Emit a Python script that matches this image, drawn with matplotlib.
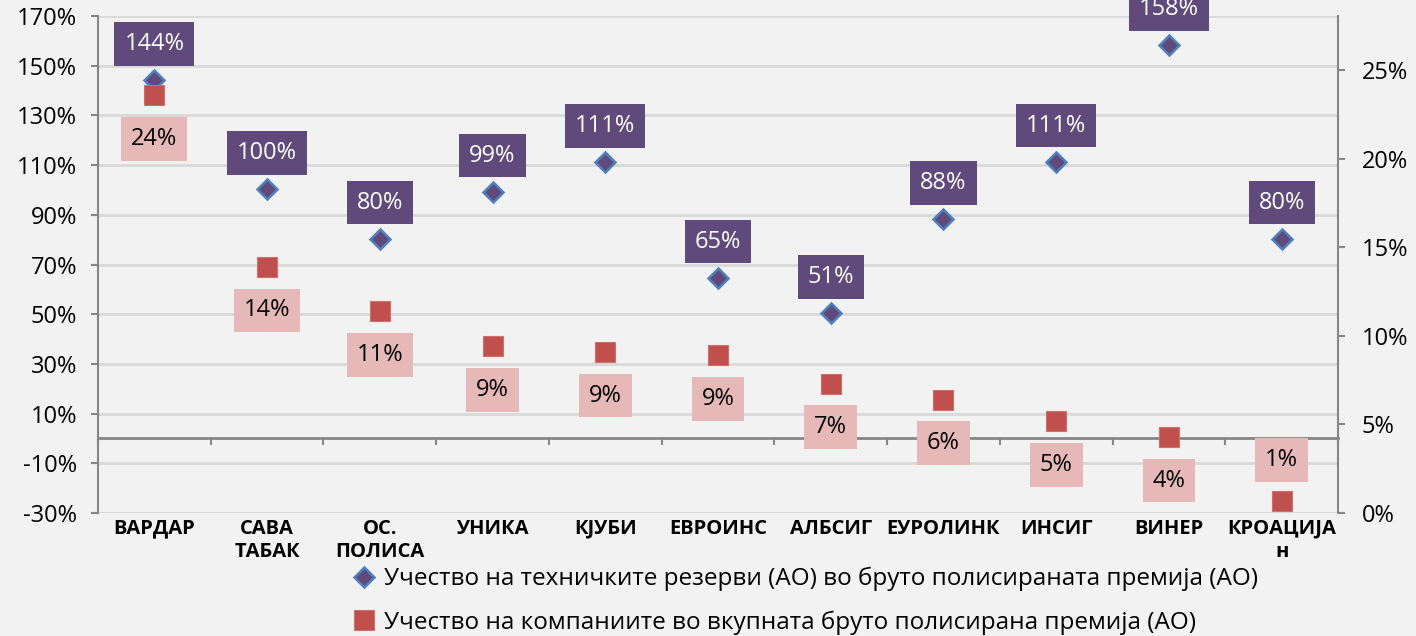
import matplotlib
matplotlib.use("Agg")
import matplotlib.pyplot as plt
from matplotlib.lines import Line2D
from matplotlib.ticker import FuncFormatter, MultipleLocator

plt.rcParams['font.family'] = ['Open Sans', 'DejaVu Sans']

categories = ["ВАРДАР", "САВА\nТАБАК", "ОС.\nПОЛИСА", "УНИКА", "КЈУБИ", "ЕВРОИНС",
              "АЛБСИГ", "ЕУРОЛИНК", "ИНСИГ", "ВИНЕР", "КРОАЦИЈА\nн"]
reserves_share = [144.2, 100.4, 80.4, 99.3, 111.3, 64.7, 50.6, 88.3, 111.4, 158.4, 80.4]
premium_share = [23.6, 13.9, 11.4, 9.4, 9.1, 8.9, 7.3, 6.4, 5.2, 4.3, 0.7]
left_ticks = [-30, -10, 10, 30, 50, 70, 90, 110, 130, 150, 170]
legend_labels = ["Учество на техничките резерви (АО) во бруто полисираната премија (АО)",
                 "Учество на компаниите во вкупната бруто полисирана премија (АО)"]

BG = "#F2F2F2"
AXC = "#868686"
GRID = "#D9D9D9"
PURPLE = "#604A7B"
BLUE_EDGE = "#4F81BD"
RED = "#C0504D"
PINK = "#E6B9B8"

fig = plt.figure(figsize=(14.16, 6.36), dpi=100, facecolor=BG)
ax = fig.add_axes([98/1416, 1-513/636, (1338-98)/1416, (513-16)/636])
ax.set_facecolor(BG)
ax2 = ax.twinx()
ax2.patch.set_visible(False)

x = list(range(len(categories)))

# left axis
ax.set_xlim(-0.5, len(categories) - 0.5)
ax.set_ylim(-30, 170)
ax.set_yticks(left_ticks)
ax.yaxis.set_major_formatter(FuncFormatter(lambda v, p: f"{v:.0f}%"))
ax.grid(axis='y', color=GRID, linewidth=2)
ax.set_axisbelow(True)
for s in ['top', 'bottom', 'right']:
    ax.spines[s].set_visible(False)
ax.spines['left'].set_color(AXC)
ax.spines['left'].set_linewidth(1.5)
ax.tick_params(axis='y', colors=AXC, labelcolor='black', length=5, width=1.5,
               labelsize=17, pad=10)
ax.set_xticks(x)
ax.set_xticklabels(categories, fontsize=14.5, fontweight='bold', linespacing=1.25)
ax.tick_params(axis='x', length=0, pad=4)

# zero line with category separators
sec = ax.secondary_xaxis(0.15)
sec.set_xticks([i - 0.5 for i in range(len(categories) + 1)])
sec.set_xticklabels([])
sec.spines['bottom'].set_color(AXC)
sec.spines['bottom'].set_linewidth(2)
sec.tick_params(axis='x', direction='out', length=5, width=1.5, colors=AXC)

# right axis
ax2.set_ylim(0, 28.05)
ax2.yaxis.set_major_locator(MultipleLocator(5))
ax2.yaxis.set_major_formatter(FuncFormatter(lambda v, p: f"{v:.0f}%"))
for s in ['top', 'bottom', 'left']:
    ax2.spines[s].set_visible(False)
ax2.spines['right'].set_color(AXC)
ax2.spines['right'].set_linewidth(1.5)
ax2.tick_params(axis='y', colors=AXC, labelcolor='black', length=5, width=1.5,
                labelsize=17, pad=12)

# series
ax.plot(x, reserves_share, linestyle='none', marker='D', markersize=10.5,
        markerfacecolor=PURPLE, markeredgecolor=BLUE_EDGE, markeredgewidth=1.8, zorder=3)
ax2.plot(x, premium_share, linestyle='none', marker='s', markersize=15,
         markerfacecolor=RED, markeredgecolor="#D0706D", markeredgewidth=0.8, zorder=3)

for i, v in enumerate(reserves_share):
    ax.annotate(f"{v:.0f}%", xy=(i, v), xytext=(0, 26), textcoords='offset points',
                ha='center', va='center', color='white', fontsize=17,
                bbox=dict(boxstyle='square,pad=0.42', fc=PURPLE, ec='none'),
                annotation_clip=False, zorder=4)

for i, v in enumerate(premium_share):
    off = -31.5 if i < len(premium_share) - 1 else 29
    ax2.annotate(f"{v:.0f}%", xy=(i, v), xytext=(0, off), textcoords='offset points',
                 ha='center', va='center', color='black', fontsize=17,
                 bbox=dict(boxstyle='square,pad=0.42', fc=PINK, ec='none'),
                 annotation_clip=False, zorder=4)

handles = [
    Line2D([], [], linestyle='none', marker='D', markersize=10, markerfacecolor=PURPLE,
           markeredgecolor=BLUE_EDGE, markeredgewidth=1.8),
    Line2D([], [], linestyle='none', marker='s', markersize=14, markerfacecolor=RED,
           markeredgecolor="#D0706D", markeredgewidth=0.8),
]
fig.legend(handles, legend_labels, loc='upper left', bbox_to_anchor=(352/1416, 1-567/636),
           frameon=False, fontsize=17.5, handlelength=1.0, handletextpad=0.3,
           labelspacing=0.78, borderpad=0, borderaxespad=0)

fig.savefig("out.png", dpi=100, facecolor=BG)
